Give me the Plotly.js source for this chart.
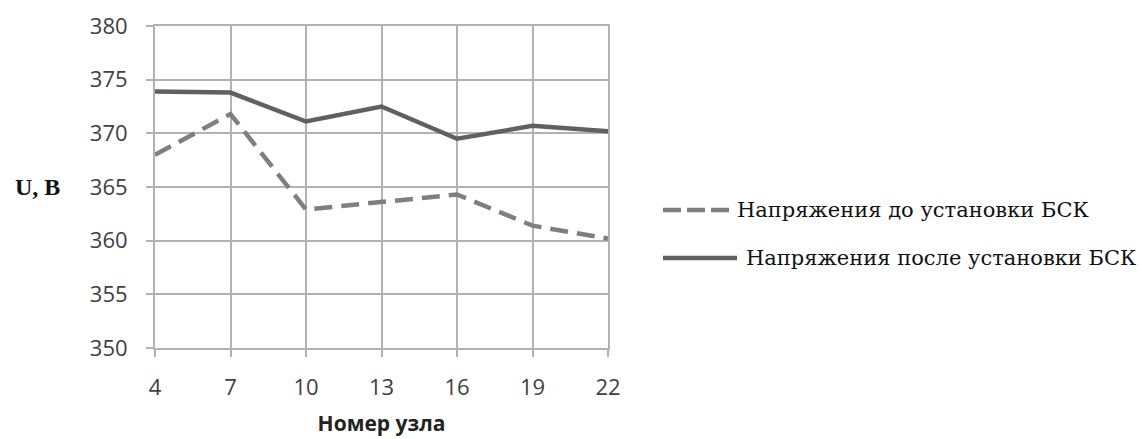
<!DOCTYPE html>
<html>
<head>
<meta charset="utf-8">
<script src="https://cdn.plot.ly/plotly-3.0.1.min.js"></script>
<style>html,body{margin:0;padding:0;background:#fff;}#chart{width:1142px;height:439px;}</style>
</head>
<body>
<div id="chart"></div>
<script>
const nodes = [4, 7, 10, 13, 16, 19, 22];
const voltageBefore = [368.0, 371.8, 362.9, 363.6, 364.3, 361.4, 360.2];
const voltageAfter = [373.9, 373.8, 371.1, 372.5, 369.5, 370.7, 370.2];
const yTicks = [350, 355, 360, 365, 370, 375, 380];
const seriesNames = ['Напряжения до установки БСК', 'Напряжения после установки БСК'];
const xTitle = 'Номер узла';
const yTitle = 'U, B';

const gridCol = '#b2b2b2';
const serif = 'DejaVu Serif, serif';
const traces = [
  {x: nodes, y: voltageBefore, type: 'scatter', mode: 'lines', name: seriesNames[0],
   line: {color: '#7f7f7f', width: 4.5, dash: '18px,9px'}},
  {x: nodes, y: voltageAfter, type: 'scatter', mode: 'lines', name: seriesNames[1],
   line: {color: '#606060', width: 4.5}}
];
const layout = {
  width: 1142, height: 439,
  margin: {l: 155, r: 534, t: 26, b: 91},
  paper_bgcolor: '#fff', plot_bgcolor: '#fff',
  showlegend: false,
  xaxis: {range: [4, 22], tickvals: nodes, ticktext: nodes.map(String),
    showgrid: true, gridcolor: gridCol, gridwidth: 2, zeroline: false,
    showline: true, linecolor: gridCol, linewidth: 2, mirror: true,
    ticks: 'outside', ticklen: 7, tickcolor: gridCol, tickwidth: 2,
    ticklabelstandoff: 12,
    tickfont: {family: 'Open Sans', size: 22, color: '#404040'},
    title: {text: '<b>' + xTitle + '</b>', font: {family: 'Open Sans', size: 21, color: '#222'}, standoff: 16}},
  yaxis: {range: [350, 380], tickvals: yTicks, ticktext: yTicks.map(String),
    showgrid: true, gridcolor: gridCol, gridwidth: 2, zeroline: false,
    showline: true, linecolor: gridCol, linewidth: 2, mirror: true,
    ticks: 'outside', ticklen: 7, tickcolor: gridCol, tickwidth: 2,
    ticklabelstandoff: 14,
    tickfont: {family: 'Open Sans', size: 22, color: '#404040'}},
  shapes: [
    {type: 'line', xref: 'paper', yref: 'paper', x0: (663-155)/453, x1: (729-155)/453,
     y0: (348-210)/322, y1: (348-210)/322, line: {color: '#7f7f7f', width: 4.5, dash: '18px,6px'}},
    {type: 'line', xref: 'paper', yref: 'paper', x0: (663-155)/453, x1: (737-155)/453,
     y0: (348-258)/322, y1: (348-258)/322, line: {color: '#606060', width: 4.5}}
  ],
  annotations: [
    {text: '<b>' + yTitle + '</b>', xref: 'paper', yref: 'paper', x: (37-155)/453, y: (348-187)/322,
     showarrow: false, xanchor: 'center', yanchor: 'middle',
     font: {family: 'Liberation Serif', size: 24, color: '#111'}},
    {text: seriesNames[0], xref: 'paper', yref: 'paper', x: (735-155)/453, y: (348-210)/322,
     showarrow: false, xanchor: 'left', yanchor: 'middle',
     font: {family: serif, size: 21, color: '#111'}},
    {text: seriesNames[1], xref: 'paper', yref: 'paper', x: (744-155)/453, y: (348-258)/322,
     showarrow: false, xanchor: 'left', yanchor: 'middle',
     font: {family: serif, size: 21, color: '#111'}}
  ]
};
Plotly.newPlot('chart', traces, layout, {displayModeBar: false, staticPlot: true});
</script>
</body>
</html>
